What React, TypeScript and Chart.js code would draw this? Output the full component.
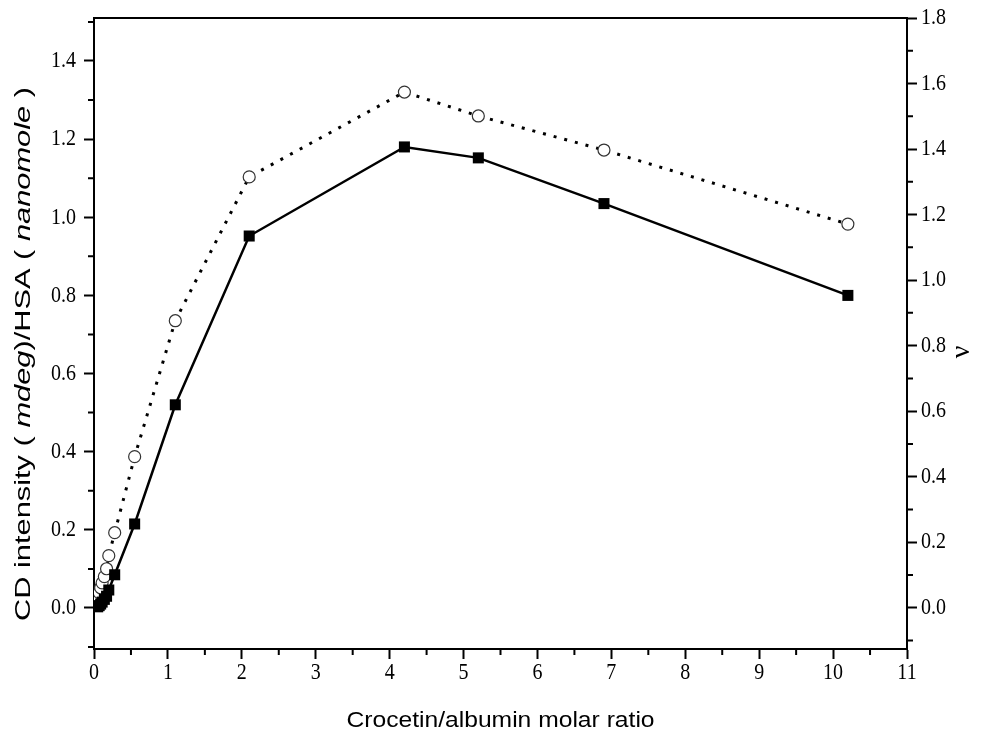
import React, { useEffect, useRef } from "react";
import { Chart, registerables } from "chart.js";

Chart.register(...registerables);

// ---- data ----
const ratio = [0.05, 0.07, 0.09, 0.11, 0.14, 0.17, 0.2, 0.28, 0.55, 1.1, 2.1, 4.2, 5.2, 6.9, 10.2];
const cdIntensity = [0.003, 0.006, 0.01, 0.015, 0.022, 0.03, 0.046, 0.085, 0.215, 0.52, 0.952, 1.18, 1.152, 1.035, 0.8];
const nu = [0.034, 0.046, 0.061, 0.076, 0.095, 0.119, 0.159, 0.229, 0.461, 0.876, 1.315, 1.574, 1.501, 1.397, 1.171];

const xMajorTicks = [0, 1, 2, 3, 4, 5, 6, 7, 8, 9, 10, 11];
const xMinorTicks = [0.5, 1.5, 2.5, 3.5, 4.5, 5.5, 6.5, 7.5, 8.5, 9.5, 10.5];
const leftMajorTicks = [0, 0.2, 0.4, 0.6, 0.8, 1.0, 1.2, 1.4];
const leftMinorTicks = [-0.1, 0.1, 0.3, 0.5, 0.7, 0.9, 1.1, 1.3, 1.5];
const rightMajorTicks = [0, 0.2, 0.4, 0.6, 0.8, 1.0, 1.2, 1.4, 1.6, 1.8];
const rightMinorTicks = [-0.1, 0.1, 0.3, 0.5, 0.7, 0.9, 1.1, 1.3, 1.5, 1.7];

const xTitle = "Crocetin/albumin molar ratio";
const yTitleParts: [string, boolean][] = [
  ["CD intensity ( ", false],
  ["mdeg", true],
  [")/HSA ( ", false],
  ["nanomole", true],
  [" )", false],
];
const rightTitle = "\u03BD";

const SANS = '"Liberation Sans", Arial, sans-serif';
const SERIF = '"Liberation Serif", "Times New Roman", serif';

function stretchedText(ctx: any, t: string, x: number, y: number, align: string, sx: number, sy: number) {
  ctx.save();
  ctx.translate(x, y);
  ctx.scale(sx, sy);
  ctx.textAlign = align;
  ctx.textBaseline = "middle";
  ctx.fillText(t, 0, 0);
  ctx.restore();
}

const decorPlugin = {
  id: "decor",
  afterDraw(chart: any) {
    const ctx = chart.ctx;
    const { left, right, top, bottom } = chart.chartArea;
    const sx = chart.scales.x;
    const sl = chart.scales.yL;
    const sr = chart.scales.yR;
    ctx.save();
    ctx.strokeStyle = "#000";
    ctx.lineWidth = 2;
    // top frame
    ctx.beginPath();
    ctx.moveTo(left - 1, top);
    ctx.lineTo(right + 1, top);
    ctx.stroke();
    // minor ticks
    ctx.beginPath();
    xMinorTicks.forEach((v) => {
      const p = sx.getPixelForValue(v);
      ctx.moveTo(p, bottom);
      ctx.lineTo(p, bottom + 6);
    });
    leftMinorTicks.forEach((v) => {
      const p = sl.getPixelForValue(v);
      ctx.moveTo(left, p);
      ctx.lineTo(left - 6, p);
    });
    rightMinorTicks.forEach((v) => {
      const p = sr.getPixelForValue(v);
      ctx.moveTo(right, p);
      ctx.lineTo(right + 6, p);
    });
    ctx.stroke();

    // tick labels (slightly tall serif)
    ctx.fillStyle = "#000";
    ctx.font = `20px ${SERIF}`;
    xMajorTicks.forEach((v) => {
      stretchedText(ctx, String(v), sx.getPixelForValue(v), 673, "center", 1, 1.2);
    });
    leftMajorTicks.forEach((v) => {
      stretchedText(ctx, v.toFixed(1), left - 18, sl.getPixelForValue(v), "right", 1, 1.2);
    });
    rightMajorTicks.forEach((v) => {
      stretchedText(ctx, v.toFixed(1), right + 14, sr.getPixelForValue(v), "left", 1, 1.2);
    });

    // x title
    ctx.font = `22px ${SANS}`;
    ctx.save();
    ctx.translate((left + right) / 2, 727);
    ctx.scale(1.12, 1);
    ctx.textAlign = "center";
    ctx.textBaseline = "alphabetic";
    ctx.fillText(xTitle, 0, 0);
    ctx.restore();

    // left y title with mixed italics
    ctx.save();
    ctx.translate(30, 354);
    ctx.rotate(-Math.PI / 2);
    ctx.scale(1.4, 1);
    let total = 0;
    const widths = yTitleParts.map(([t, it]) => {
      ctx.font = `${it ? "italic " : ""}22px ${SANS}`;
      const w = ctx.measureText(t).width;
      total += w;
      return w;
    });
    let x = -total / 2;
    ctx.textAlign = "left";
    ctx.textBaseline = "alphabetic";
    yTitleParts.forEach(([t, it], i) => {
      ctx.font = `${it ? "italic " : ""}22px ${SANS}`;
      ctx.fillText(t, x, 0);
      x += widths[i];
    });
    ctx.restore();

    // right title
    ctx.save();
    ctx.translate(962, 352);
    ctx.rotate(-Math.PI / 2);
    ctx.font = `28px ${SERIF}`;
    ctx.textAlign = "center";
    ctx.textBaseline = "middle";
    ctx.fillText(rightTitle, 0, 0);
    ctx.restore();
    ctx.restore();
  },
};

export default function App() {
  const ref = useRef<HTMLCanvasElement | null>(null);
  useEffect(() => {
    if (!ref.current) return;
    const grid = { drawOnChartArea: false, drawTicks: true, tickLength: 10, tickColor: "#000", tickWidth: 2 };
    const border = { display: true, color: "#000", width: 2 };
    const chart = new Chart(ref.current, {
      type: "line",
      data: {
        datasets: [
          {
            label: "CD",
            data: ratio.map((x, i) => ({ x, y: cdIntensity[i] })),
            yAxisID: "yL",
            borderColor: "#000",
            borderWidth: 2.5,
            pointStyle: "rect",
            pointRadius: 7.8,
            pointBackgroundColor: "#000",
            pointBorderColor: "#000",
            pointBorderWidth: 0,
            tension: 0,
          },
          {
            label: "nu",
            data: ratio.map((x, i) => ({ x, y: nu[i] })),
            yAxisID: "yR",
            borderColor: "#000",
            borderWidth: 3,
            borderDash: [3, 8],
            pointStyle: "circle",
            pointRadius: 6,
            pointBackgroundColor: "#fff",
            pointBorderColor: "#333",
            pointBorderWidth: 1.2,
            tension: 0,
          },
        ],
      },
      options: {
        animation: false,
        responsive: false,
        devicePixelRatio: 1,
        layout: { padding: { top: 18 } },
        plugins: { legend: { display: false }, tooltip: { enabled: false } },
        scales: {
          x: {
            type: "linear",
            min: 0,
            max: 11,
            afterBuildTicks: (s: any) => {
              s.ticks = xMajorTicks.map((v) => ({ value: v }));
            },
            afterFit: (s: any) => {
              s.height = 84;
            },
            ticks: { display: false },
            grid,
            border,
          },
          yL: {
            type: "linear",
            position: "left",
            min: -0.105,
            max: 1.51,
            afterBuildTicks: (s: any) => {
              s.ticks = leftMajorTicks.map((v) => ({ value: v }));
            },
            afterFit: (s: any) => {
              s.width = 94;
            },
            ticks: { display: false },
            grid,
            border,
          },
          yR: {
            type: "linear",
            position: "right",
            min: -0.126,
            max: 1.8,
            afterBuildTicks: (s: any) => {
              s.ticks = rightMajorTicks.map((v) => ({ value: v }));
            },
            afterFit: (s: any) => {
              s.width = 83;
            },
            ticks: { display: false },
            grid,
            border,
          },
        },
      },
      plugins: [decorPlugin],
    } as any);
    return () => chart.destroy();
  }, []);
  return (
    <div style={{ position: "fixed", left: 0, top: 0, width: 990, height: 733, background: "#fff" }}>
      <canvas ref={ref} width={990} height={733} style={{ width: 990, height: 733, display: "block" }} />
    </div>
  );
}
